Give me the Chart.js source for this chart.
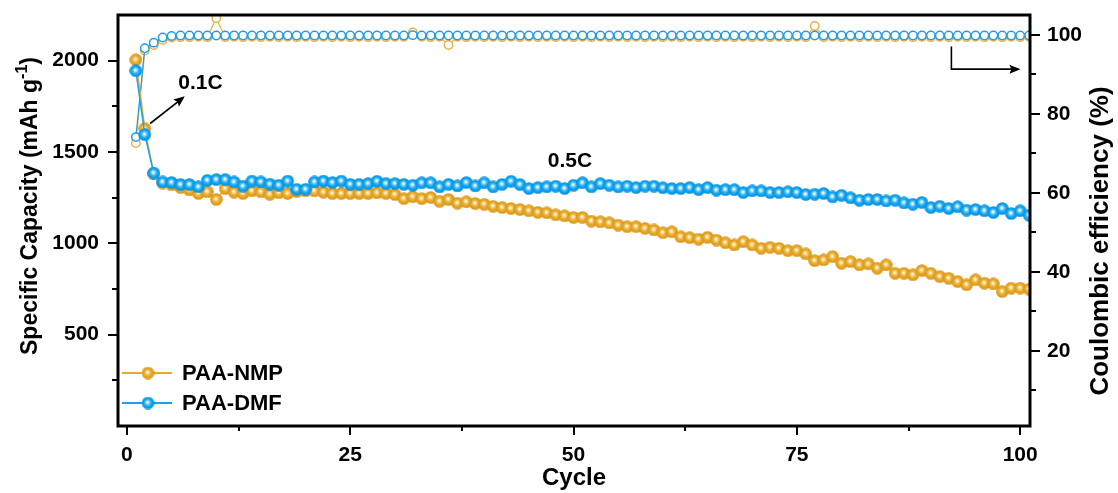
<!DOCTYPE html>
<html><head><meta charset="utf-8">
<script src="https://cdn.jsdelivr.net/npm/chart.js@4.4.0/dist/chart.umd.min.js"></script>
<style>html,body{margin:0;padding:0;background:#fff;}canvas{display:block;}</style>
</head><body>
<canvas id="c" width="1118" height="493"></canvas>
<script>
const cycles = [1,2,3,4,5,6,7,8,9,10,11,12,13,14,15,16,17,18,19,20,21,22,23,24,25,26,27,28,29,30,31,32,33,34,35,36,37,38,39,40,41,42,43,44,45,46,47,48,49,50,51,52,53,54,55,56,57,58,59,60,61,62,63,64,65,66,67,68,69,70,71,72,73,74,75,76,77,78,79,80,81,82,83,84,85,86,87,88,89,90,91,92,93,94,95,96,97,98,99,100,101];
const capacityNMP = [2005,1628,1380,1330,1320,1305,1292,1273,1282,1240,
 1300,1280,1273,1287,1282,1269,1277,1273,1283,1287,
 1287,1280,1273,1273,1273,1273,1273,1276,1273,1267,
 1245,1255,1245,1251,1230,1240,1220,1227,1218,1214,
 1203,1196,1191,1185,1178,1170,1167,1156,1150,1142,
 1142,1122,1118,1112,1100,1091,1091,1082,1073,1058,
 1063,1036,1031,1023,1033,1018,1003,991,1009,991,
 973,978,973,960,960,942,905,909,927,891,
 900,882,887,864,882,836,836,827,851,836,
 818,809,791,773,800,782,778,736,755,755,749];
const capacityDMF = [1945,1595,1385,1336,1333,1322,1322,1309,1345,1349,
 1349,1336,1313,1341,1336,1324,1318,1341,1296,1296,
 1336,1341,1333,1341,1323,1323,1327,1340,1327,1327,
 1323,1318,1331,1331,1309,1323,1314,1333,1314,1331,
 1309,1323,1340,1322,1300,1305,1309,1313,1300,1318,
 1331,1309,1327,1318,1309,1313,1305,1313,1313,1304,
 1300,1300,1305,1294,1305,1291,1294,1294,1278,1287,
 1287,1278,1278,1282,1278,1267,1269,1273,1254,1263,
 1249,1236,1240,1240,1232,1236,1221,1214,1224,1196,
 1203,1191,1200,1182,1185,1178,1169,1191,1163,1178,1154];
const ceNMP = [72.6,96.0,97.4,98.7,99.3,99.4,99.4,99.5,99.4,104.2,
 99.4,99.5,99.4,99.5,99.4,99.5,99.4,99.5,99.4,99.5,
 99.4,99.5,99.4,99.5,99.4,99.5,99.4,99.5,99.4,99.5,
 99.5,100.6,99.5,99.4,99.5,97.4,99.5,99.4,99.5,99.4,
 99.5,99.4,99.5,99.4,99.5,99.4,99.5,99.4,99.5,99.4,
 99.5,99.4,99.5,99.4,99.5,99.4,99.5,99.4,99.5,99.4,
 99.5,99.4,99.5,99.4,99.5,99.4,99.5,99.4,99.5,99.4,
 99.5,99.4,99.5,99.4,99.5,99.4,102.2,99.4,99.5,99.4,
 99.5,99.4,99.5,99.4,99.5,99.4,99.5,99.4,99.5,99.4,
 99.5,99.4,99.5,99.4,99.5,99.4,99.5,99.4,99.5,99.4,99.5];
const ceDMF = [74.1,96.6,98.0,99.3,99.7,99.8,99.8,99.8,99.8,99.8,
 99.8,99.8,99.8,99.8,99.8,99.8,99.8,99.8,99.8,99.8,
 99.8,99.8,99.8,99.8,99.8,99.8,99.8,99.8,99.8,99.8,
 99.8,99.9,99.8,99.8,99.8,99.8,99.8,99.8,99.8,99.8,
 99.8,99.8,99.8,99.8,99.8,99.8,99.8,99.8,99.8,99.8,
 99.8,99.8,99.8,99.8,99.8,99.8,99.8,99.8,99.8,99.8,
 99.8,99.8,99.8,99.8,99.8,99.8,99.8,99.8,99.8,99.8,
 99.8,99.8,99.8,99.8,99.8,99.8,99.8,99.8,99.8,99.8,
 99.8,99.8,99.8,99.8,99.8,99.8,99.8,99.8,99.8,99.8,
 99.8,99.8,99.8,99.8,99.8,99.8,99.8,99.8,99.8,99.8,99.8];
const capacityTickLabels = [500,1000,1500,2000];
const capacityMinorTicks = [250,750,1250,1750];
const ceTickLabels = [20,40,60,80,100];
const ceMinorTicks = [10,30,50,70,90];
const cycleTickLabels = [0,25,50,75,100];
const cycleMinorTicks = [12.5,37.5,62.5,87.5];

const FONT = "'Liberation Sans', Arial, sans-serif";

function ball(light, mid, base, dark, size) {
  const c = document.createElement('canvas');
  c.width = c.height = size;
  const g = c.getContext('2d');
  const r = size / 2;
  const grad = g.createRadialGradient(r - 0.6, r - 0.8, 0, r, r, r);
  grad.addColorStop(0, light);
  grad.addColorStop(0.14, light);
  grad.addColorStop(0.34, mid);
  grad.addColorStop(0.62, base);
  grad.addColorStop(1, dark);
  g.fillStyle = grad;
  g.beginPath(); g.arc(r, r, r - 0.2, 0, Math.PI * 2); g.fill();
  return c;
}
const ballNMP = ball('#FFF2D2', '#F0C45C', '#E6A524', '#D8951A', 13);
const ballDMF = ball('#E6F7FF', '#63C7F8', '#0FA3F1', '#078EDA', 13);

const pts = arr => cycles.map((c, i) => ({x: c, y: arr[i]}));

const decor = {
  id: 'decor',
  afterDraw(chart) {
    const {ctx, chartArea: a, scales} = chart;
    const sx = scales.x, sy = scales.y, sy1 = scales.y1;
    ctx.save();
    ctx.strokeStyle = '#000';
    ctx.lineWidth = 2;
    const seg = (x0, y0, x1, y1) => { ctx.beginPath(); ctx.moveTo(x0, y0); ctx.lineTo(x1, y1); ctx.stroke(); };
    capacityTickLabels.forEach(v => { const p = Math.round(sy.getPixelForValue(v)); seg(a.left - 10, p, a.left, p); });
    capacityMinorTicks.forEach(v => { const p = Math.round(sy.getPixelForValue(v)); seg(a.left - 6, p, a.left, p); });
    ceTickLabels.forEach(v => { const p = Math.round(sy1.getPixelForValue(v)); seg(a.right, p, a.right + 10, p); });
    ceMinorTicks.forEach(v => { const p = Math.round(sy1.getPixelForValue(v)); seg(a.right, p, a.right + 6, p); });
    cycleTickLabels.forEach(v => { const p = Math.round(sx.getPixelForValue(v)); seg(p, a.bottom, p, a.bottom + 9); });
    cycleMinorTicks.forEach(v => { const p = Math.round(sx.getPixelForValue(v)); seg(p, a.bottom, p, a.bottom + 5); });
    // frame
    ctx.lineWidth = 3;
    ctx.strokeRect(a.left, a.top, a.right - a.left, a.bottom - a.top);

    ctx.fillStyle = '#000';
    // left title with superscript
    ctx.save();
    ctx.translate(31, 206);
    ctx.rotate(-Math.PI / 2);
    const mainT = 'Specific Capacity (mAh g', supT = '-1', endT = ')';
    ctx.font = 'bold 23px ' + FONT;
    const wm = ctx.measureText(mainT).width, we = ctx.measureText(endT).width;
    ctx.font = 'bold 16px ' + FONT;
    const ws = ctx.measureText(supT).width;
    let x0 = -(wm + ws + we) / 2;
    ctx.textBaseline = 'middle'; ctx.textAlign = 'left';
    ctx.font = 'bold 23px ' + FONT; ctx.fillText(mainT, x0, 0);
    ctx.font = 'bold 16px ' + FONT; ctx.fillText(supT, x0 + wm, -8);
    ctx.font = 'bold 23px ' + FONT; ctx.fillText(endT, x0 + wm + ws, 0);
    ctx.restore();
    // right title
    ctx.save();
    ctx.translate(1101, 241);
    ctx.rotate(-Math.PI / 2);
    ctx.font = 'bold 26px ' + FONT;
    ctx.textAlign = 'center'; ctx.textBaseline = 'middle';
    ctx.fillText('Coulombic efficiency (%)', 0, 0);
    ctx.restore();

    // legend
    const order = ['PAA-NMP', 'PAA-DMF'];
    order.forEach((lab, i) => {
      const d = chart.data.datasets.find(ds => ds.label === lab);
      const ly = a.bottom - 53 + i * 30;
      ctx.strokeStyle = d.borderColor; ctx.lineWidth = 2;
      seg(a.left + 4, ly, a.left + 54, ly);
      const img = d.pointStyle;
      ctx.drawImage(img, a.left + 30 - img.width / 2, ly - img.height / 2);
      ctx.fillStyle = '#000';
      ctx.font = 'bold 22px ' + FONT;
      ctx.textAlign = 'left'; ctx.textBaseline = 'middle';
      ctx.fillText(lab, a.left + 64, ly + 1);
    });

    // annotations
    const arrow = (pts2) => {
      ctx.strokeStyle = '#000'; ctx.fillStyle = '#000'; ctx.lineWidth = 1.6;
      ctx.beginPath(); ctx.moveTo(pts2[0][0], pts2[0][1]);
      for (let k = 1; k < pts2.length; k++) ctx.lineTo(pts2[k][0], pts2[k][1]);
      ctx.stroke();
      const [xa, ya] = pts2[pts2.length - 2], [xb, yb] = pts2[pts2.length - 1];
      const ang = Math.atan2(yb - ya, xb - xa);
      ctx.save(); ctx.translate(xb, yb); ctx.rotate(ang);
      ctx.beginPath(); ctx.moveTo(2, 0); ctx.lineTo(-9, -4.5); ctx.lineTo(-7, 0); ctx.lineTo(-9, 4.5); ctx.closePath(); ctx.fill();
      ctx.restore();
    };
    ctx.font = 'bold 21px ' + FONT;
    ctx.textBaseline = 'middle';
    ctx.textAlign = 'left'; ctx.fillStyle = '#000';
    ctx.fillText('0.1C', sx.getPixelForValue(5.74), sy.getPixelForValue(1877));
    ctx.textAlign = 'center';
    ctx.fillText('0.5C', sx.getPixelForValue(49.6), sy.getPixelForValue(1448));
    arrow([[sx.getPixelForValue(2.6), sy.getPixelForValue(1656)], [sx.getPixelForValue(6.3), sy.getPixelForValue(1798)]]);
    arrow([[sx.getPixelForValue(92.3), sy1.getPixelForValue(97.0)], [sx.getPixelForValue(92.3), sy1.getPixelForValue(91.3)], [sx.getPixelForValue(99.8), sy1.getPixelForValue(91.3)]]);
    ctx.restore();
  }
};

const tickFont = {family: FONT, size: 21, weight: 'bold'};
const noPad = s => { s.paddingTop = 0; s.paddingBottom = 0; s.paddingLeft = 0; s.paddingRight = 0; };

new Chart(document.getElementById('c'), {
  type: 'line',
  data: {
    datasets: [
      {label: 'PAA-DMF', data: pts(capacityDMF), yAxisID: 'y', order: 1,
       borderColor: '#1AA2EE', borderWidth: 1.5, pointStyle: ballDMF, pointRadius: 6.5, tension: 0},
      {label: 'PAA-NMP', data: pts(capacityNMP), yAxisID: 'y', order: 2,
       borderColor: '#E9AA2C', borderWidth: 1.5, pointStyle: ballNMP, pointRadius: 6.5, tension: 0},
      {label: 'CE-DMF', data: pts(ceDMF), yAxisID: 'y1', order: 3,
       borderColor: '#239CE3', borderWidth: 1.2, pointStyle: 'circle', pointRadius: 4.2,
       pointBorderWidth: 1.5, pointBorderColor: '#239CE3', pointBackgroundColor: '#ffffff', tension: 0},
      {label: 'CE-NMP', data: pts(ceNMP), yAxisID: 'y1', order: 4,
       borderColor: '#EBB241', borderWidth: 1.2, pointStyle: 'circle', pointRadius: 4.2,
       pointBorderWidth: 1.5, pointBorderColor: '#EBB241', pointBackgroundColor: '#ffffff', tension: 0}
    ]
  },
  options: {
    responsive: false,
    animation: false,
    devicePixelRatio: 1,
    layout: {padding: {top: 15, left: 0, right: 0, bottom: 0}},
    plugins: {legend: {display: false}, tooltip: {enabled: false}},
    scales: {
      x: {
        type: 'linear', position: 'bottom', min: -1, max: 101.1,
        grid: {display: false}, border: {display: false},
        afterBuildTicks: s => { s.ticks = cycleTickLabels.map(v => ({value: v})); },
        afterFit: s => { s.height = 67; noPad(s); },
        ticks: {font: tickFont, color: '#000', padding: 9, autoSkip: false, maxRotation: 0, callback: v => String(v)},
        title: {display: true, text: 'Cycle', color: '#000', font: {family: FONT, size: 24, weight: 'bold'}, padding: {top: 0, bottom: 0}}
      },
      y: {
        type: 'linear', position: 'left', min: 0, max: 2250,
        grid: {display: false}, border: {display: false},
        afterBuildTicks: s => { s.ticks = capacityTickLabels.map(v => ({value: v})); },
        afterFit: s => { s.width = 118; noPad(s); },
        ticks: {font: tickFont, color: '#000', padding: 11, autoSkip: false, callback: v => String(v)}
      },
      y1: {
        type: 'linear', position: 'right', min: 1, max: 105,
        grid: {display: false}, border: {display: false},
        afterBuildTicks: s => { s.ticks = ceTickLabels.map(v => ({value: v})); },
        afterFit: s => { s.width = 88; noPad(s); },
        ticks: {font: tickFont, color: '#000', padding: 9, autoSkip: false, callback: v => String(v)}
      }
    }
  },
  plugins: [decor]
});
</script>
</body></html>
